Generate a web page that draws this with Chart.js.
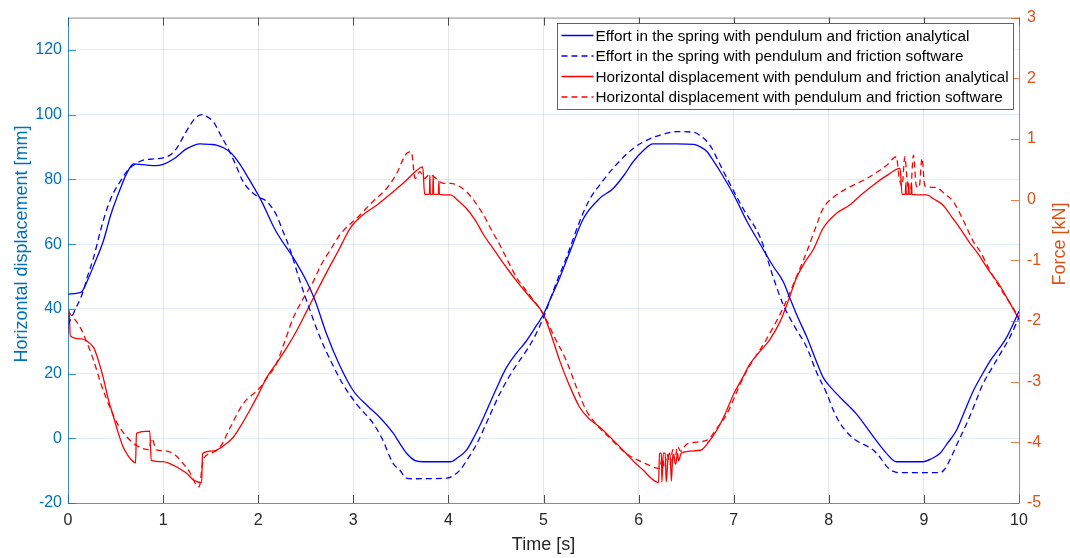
<!DOCTYPE html>
<html>
<head>
<meta charset="utf-8">
<script src="https://cdn.jsdelivr.net/npm/chart.js@4/dist/chart.umd.min.js"></script>
<style>
  html, body { margin: 0; padding: 0; background: #fff; }
</style>
</head>
<body>
<canvas id="cav" width="1070" height="558"></canvas>
<script>
// Data
var timeTicks = [0, 1, 2, 3, 4, 5, 6, 7, 8, 9, 10];
var dispTicks = [-20, 0, 20, 40, 60, 80, 100, 120];
var forceTicks = [-5, -4, -3, -2, -1, 0, 1, 2, 3];

var seriesLabels = [
    'Effort in the spring with pendulum and friction analytical',
    'Effort in the spring with pendulum and friction software',
    'Horizontal displacement with pendulum and friction analytical',
    'Horizontal displacement with pendulum and friction software'
];

// effort in the spring [kN], right axis
var tSpringAn = [0, 0.1, 0.15, 0.2, 0.28, 0.37, 0.45, 0.55, 0.62, 0.69, 0.75, 0.83, 0.92, 1.0, 1.11, 1.25, 1.39, 1.5, 1.56, 1.64,
    1.72, 1.8, 1.88, 2.02, 2.19, 2.37, 2.51, 2.6, 2.72, 2.85, 3.0, 3.15, 3.28, 3.42, 3.49, 3.56, 3.65, 3.74, 3.9, 4.02,
    4.1, 4.19, 4.28, 4.37, 4.5, 4.61, 4.72, 4.82, 4.92, 5.0, 5.08, 5.17, 5.28, 5.42, 5.59, 5.73, 5.85, 5.94, 6.05, 6.15,
    6.4, 6.58, 6.65, 6.72, 6.79, 6.86, 7.0, 7.14, 7.28, 7.42, 7.52, 7.59, 7.68, 7.77, 7.86, 7.94, 8.03, 8.12, 8.29, 8.47,
    8.6, 8.71, 8.99, 9.08, 9.17, 9.25, 9.34, 9.43, 9.52, 9.61, 9.7, 9.87, 10];
var springAn = [-1.56, -1.54, -1.51, -1.35, -1.05, -0.69, -0.25, 0.18, 0.44, 0.59, 0.58, 0.57, 0.56, 0.58, 0.67, 0.84, 0.92, 0.91, 0.90, 0.85,
    0.76, 0.60, 0.40, 0.02, -0.53, -0.96, -1.35, -1.67, -2.22, -2.71, -3.15, -3.40, -3.59, -3.85, -4.02, -4.18, -4.30, -4.32, -4.32, -4.32,
    -4.25, -4.13, -3.88, -3.59, -3.13, -2.77, -2.52, -2.33, -2.09, -1.89, -1.61, -1.29, -0.85, -0.31, 0.02, 0.18, 0.41, 0.62, 0.81, 0.92,
    0.92, 0.91, 0.87, 0.79, 0.63, 0.46, 0.08, -0.36, -0.74, -1.11, -1.35, -1.62, -1.96, -2.27, -2.63, -2.93, -3.11, -3.26, -3.53, -3.91,
    -4.17, -4.32, -4.32, -4.27, -4.18, -4.01, -3.81, -3.48, -3.15, -2.89, -2.65, -2.27, -1.84];

var tSpringSw = [0, 0.08, 0.16, 0.2, 0.27, 0.34, 0.41, 0.48, 0.55, 0.62, 0.69, 0.79, 0.9, 1.0, 1.07, 1.14, 1.21, 1.28, 1.35, 1.41,
    1.47, 1.53, 1.6, 1.7, 1.77, 1.84, 1.95, 2.02, 2.09, 2.19, 2.26, 2.33, 2.44, 2.51, 2.65, 2.77, 2.89, 3.05, 3.21, 3.3,
    3.42, 3.49, 3.56, 3.62, 3.98, 4.05, 4.12, 4.2, 4.3, 4.42, 4.54, 4.68, 4.82, 4.91, 5.0, 5.14, 5.24, 5.38, 5.48, 5.59,
    5.75, 5.94, 6.1, 6.22, 6.4, 6.58, 6.66, 6.75, 6.84, 6.93, 7.1, 7.28, 7.42, 7.52, 7.64, 7.77, 7.87, 7.98, 8.05, 8.12,
    8.2, 8.29, 8.47, 8.54, 8.61, 8.68, 8.75, 9.17, 9.22, 9.27, 9.36, 9.45, 9.54, 9.62, 9.71, 9.8, 9.9, 10];
var springSw = [-2.06, -1.80, -1.51, -1.29, -0.95, -0.52, -0.15, 0.12, 0.30, 0.47, 0.57, 0.65, 0.67, 0.69, 0.73, 0.84, 1.03, 1.22, 1.36, 1.40,
    1.36, 1.28, 1.08, 0.79, 0.55, 0.30, 0.10, 0.03, -0.03, -0.25, -0.52, -0.80, -1.35, -1.67, -2.27, -2.68, -3.04, -3.40, -3.69, -3.93,
    -4.35, -4.46, -4.59, -4.60, -4.59, -4.55, -4.46, -4.28, -4.02, -3.61, -3.20, -2.81, -2.49, -2.25, -1.94, -1.35, -0.96, -0.36, -0.01, 0.24,
    0.55, 0.84, 0.99, 1.06, 1.12, 1.11, 1.04, 0.90, 0.63, 0.35, -0.15, -0.63, -1.30, -1.73, -2.09, -2.44, -2.84, -3.20, -3.48, -3.69,
    -3.85, -3.97, -4.13, -4.25, -4.40, -4.48, -4.50, -4.50, -4.44, -4.30, -3.99, -3.69, -3.35, -3.04, -2.79, -2.55, -2.28, -1.94];

// horizontal displacement [mm], left axis
var tDispAn = [0, 0.01, 0.025, 0.14, 0.2, 0.27, 0.32, 0.37, 0.42, 0.48, 0.53, 0.58, 0.63, 0.67, 0.71, 0.72, 0.86, 0.875, 1.0, 1.07,
    1.14, 1.25, 1.32, 1.405, 1.415, 1.53, 1.65, 1.74, 1.82, 1.91, 2.0, 2.09, 2.2, 2.3, 2.4, 2.51, 2.6, 2.67, 2.76, 2.84,
    2.97, 3.1, 3.25, 3.42, 3.55, 3.63, 3.73, 3.75, 3.8, 3.805, 3.81, 3.835, 3.84, 3.845, 3.895, 3.9, 3.905, 4.02, 4.1, 4.19,
    4.28, 4.37, 4.45, 4.54, 4.63, 4.72, 4.86, 5.0, 5.08, 5.17, 5.27, 5.38, 5.48, 5.59, 5.73, 5.87, 5.96, 6.05, 6.13, 6.21,
    6.22, 6.24, 6.245, 6.26, 6.28, 6.29, 6.31, 6.33, 6.345, 6.36, 6.39, 6.41, 6.42, 6.45, 6.65, 6.74, 6.82, 6.91, 7.0, 7.09,
    7.17, 7.28, 7.38, 7.49, 7.58, 7.66, 7.75, 7.84, 7.94, 8.08, 8.22, 8.35, 8.47, 8.6, 8.75, 8.77, 8.805, 8.81, 8.815, 8.835,
    8.84, 8.845, 8.865, 8.87, 8.875, 9.03, 9.1, 9.2, 9.29, 9.38, 9.48, 9.57, 9.68, 9.78, 9.9, 10];
var dispAn = [32.2, 39.8, 31.6, 30.7, 30, 28, 24, 18.8, 12.5, 6.5, 1.5, -2.7, -5.3, -6.8, -7.6, 1.5, 2.2, -6.8, -7.2, -7.8,
    -8.8, -10.9, -12.9, -13.7, -4.7, -3.9, -2, 0.4, 4, 8.6, 13.5, 18.8, 23.5, 28, 33, 39.3, 44.5, 48.5, 53.5, 57.8,
    65, 69, 72.1, 76.2, 79.5, 81.8, 83.9, 75.4, 75.4, 81.3, 75.4, 75.4, 81.3, 75.4, 75.4, 79.5, 75.4, 75.2, 73.5, 71,
    67.5, 62.9, 59.5, 55.7, 52, 48.5, 43.5, 38.3, 32, 24, 16.5, 9.6, 6, 3.5, -0.5, -4.7, -7.5, -9.9, -12.3, -13.7,
    -4.6, -4.6, -13.5, -4.6, -4.6, -13.5, -6, -4.6, -13.2, -5, -8, -4.6, -7, -4.5, -3.7, -1, 2.4, 7.5, 13.7, 18.5,
    22.9, 27, 30.5, 36.2, 43, 49.6, 54.5, 58.5, 64.9, 69.5, 72.1, 75.5, 78.3, 81, 83.4, 75.4, 75.4, 79, 75.4, 75.4,
    79, 75.4, 75.4, 79, 75.4, 75.2, 74, 72.1, 68.5, 64.9, 60.5, 57, 52, 48, 42, 36.8];

var tDispSw = [0, 0.13, 0.2, 0.27, 0.35, 0.44, 0.53, 0.62, 0.7, 0.79, 0.85, 0.88, 0.93, 1.0, 1.07, 1.14, 1.21, 1.28, 1.35, 1.38,
    1.42, 1.49, 1.6, 1.7, 1.84, 2.02, 2.1, 2.19, 2.28, 2.37, 2.47, 2.58, 2.66, 2.75, 2.86, 3.07, 3.2, 3.35, 3.45, 3.56,
    3.61, 3.65, 3.7, 3.75, 3.8, 3.95, 4.02, 4.19, 4.28, 4.37, 4.45, 4.54, 4.63, 4.72, 4.86, 5.0, 5.12, 5.24, 5.35, 5.45,
    5.55, 5.7, 5.87, 6.05, 6.22, 6.25, 6.27, 6.3, 6.33, 6.36, 6.38, 6.41, 6.44, 6.51, 6.72, 6.82, 6.93, 7.02, 7.1, 7.19,
    7.28, 7.4, 7.52, 7.64, 7.77, 7.86, 7.94, 8.05, 8.19, 8.4, 8.61, 8.71, 8.74, 8.77, 8.8, 8.83, 8.86, 8.89, 8.92, 8.95,
    8.98, 9.01, 9.13, 9.22, 9.31, 9.42, 9.52, 9.59, 9.7, 9.8, 9.9, 10];
var dispSw = [39.3, 34.2, 29.5, 24, 16.5, 9.6, 4, 0.4, -1.8, -3.2, -3.5, 0, -3.6, -3.8, -4.2, -5.5, -7.8, -10.5, -14.5, -15,
    -6.8, -4.8, -2.7, 3, 10.6, 15.7, 19, 22.9, 30, 37.3, 43, 48.5, 53.5, 57.8, 62.9, 69, 73, 77.2, 81.5, 88,
    88.5, 80.3, 82.4, 80.3, 81.5, 78.8, 78.8, 76.2, 73, 69, 64.5, 59.8, 54.5, 49.5, 44, 38.3, 31, 24, 15.5, 8.6,
    4.5, 0, -4.7, -7.5, -9.3, -6, -9, -5, -8, -3.5, -6.5, -2.5, -4, -1.7, -0.6, 3, 7.6, 13.5, 18.8, 23.5,
    27.5, 33.5, 40.3, 48.5, 57.8, 65, 71, 74.5, 77.2, 80.3, 84.4, 87, 80.5, 78, 87, 78, 77, 87.5, 78, 77.5,
    86.5, 78, 77.5, 75.5, 73.1, 67, 60.8, 57.8, 51.5, 46.5, 42, 37.3];

var fontName = '"Liberation Sans", Arial, Helvetica, sans-serif';
var leftColour = '#0072bd';
var rightColour = '#d95319';
var axisGrey = '#262626';

function pts(ts, vs) {
    return ts.map(function (t, i) { return {x: t, y: vs[i]}; });
}

function fixedTicks(list) {
    return function (scale) {
        scale.ticks = list.map(function (v) { return {value: v}; });
    };
}

// axis lines, inner tick marks, y titles and the boxed legend
var framePlugin = {
    id: 'frame',
    afterDraw: function (chart) {
        var ctx = chart.ctx;
        var a = chart.chartArea;
        var sx = chart.scales.x, sy = chart.scales.y, sy1 = chart.scales.y1;
        var tl = 8;
        ctx.save();
        ctx.lineWidth = 1;

        // top and bottom
        ctx.strokeStyle = '#8a8a8a';
        ctx.beginPath();
        ctx.moveTo(a.left, a.top + 0.5); ctx.lineTo(a.right, a.top + 0.5);
        ctx.moveTo(a.left, a.bottom + 0.5); ctx.lineTo(a.right, a.bottom + 0.5);
        ctx.stroke();
        ctx.strokeStyle = '#4d4d4d';
        ctx.beginPath();
        timeTicks.forEach(function (v) {
            var px = Math.round(sx.getPixelForValue(v)) + 0.5;
            ctx.moveTo(px, a.top); ctx.lineTo(px, a.top + tl);
            ctx.moveTo(px, a.bottom); ctx.lineTo(px, a.bottom - tl);
        });
        ctx.stroke();

        // left axis
        ctx.strokeStyle = 'rgba(0,114,189,0.75)';
        ctx.beginPath();
        ctx.moveTo(a.left + 0.5, a.top); ctx.lineTo(a.left + 0.5, a.bottom + 1);
        dispTicks.forEach(function (v) {
            var py = Math.round(sy.getPixelForValue(v)) + 0.5;
            ctx.moveTo(a.left, py); ctx.lineTo(a.left + tl, py);
        });
        ctx.stroke();

        // right axis
        ctx.strokeStyle = 'rgba(217,83,25,0.75)';
        ctx.beginPath();
        ctx.moveTo(a.right + 0.5, a.top); ctx.lineTo(a.right + 0.5, a.bottom + 1);
        forceTicks.forEach(function (v) {
            var py = Math.round(sy1.getPixelForValue(v)) + 0.5;
            ctx.moveTo(a.right, py); ctx.lineTo(a.right - tl, py);
        });
        ctx.stroke();

        // y titles, both read bottom to top
        ctx.font = '18px ' + fontName;
        ctx.textAlign = 'center';
        ctx.textBaseline = 'middle';
        ctx.fillStyle = leftColour;
        ctx.save();
        ctx.translate(22, 244);
        ctx.rotate(-Math.PI / 2);
        ctx.fillText('Horizontal displacement [mm]', 0, 0);
        ctx.restore();
        ctx.fillStyle = rightColour;
        ctx.save();
        ctx.translate(1060, 244);
        ctx.rotate(-Math.PI / 2);
        ctx.fillText('Force [kN]', 0, 0);
        ctx.restore();

        // legend
        var ds = chart.data.datasets;
        ctx.font = '15.3px ' + fontName;
        var w = 0;
        ds.forEach(function (d) { w = Math.max(w, ctx.measureText(d.label).width); });
        var boxR = 1013, boxT = 23.5, rowH = 20.5;
        var boxW = Math.round(38 + w + 5);
        var boxL = boxR - boxW + 0.5;
        var boxH = 4 + rowH * ds.length;
        ctx.fillStyle = '#ffffff';
        ctx.fillRect(boxL, boxT, boxW, boxH);
        ctx.strokeStyle = '#3c3c3c';
        ctx.lineWidth = 0.8;
        ctx.strokeRect(boxL, boxT, boxW, boxH);
        ctx.textAlign = 'left';
        ds.forEach(function (d, i) {
            var yy = boxT + 12 + i * rowH;
            ctx.strokeStyle = d.borderColor;
            ctx.lineWidth = 1.3;
            ctx.setLineDash(d.borderDash || []);
            ctx.beginPath();
            ctx.moveTo(boxL + 4, yy); ctx.lineTo(boxL + 36, yy);
            ctx.stroke();
            ctx.setLineDash([]);
            ctx.fillStyle = '#000000';
            ctx.fillText(d.label, boxL + 38, yy + 1);
        });
        ctx.restore();
    }
};

var cav = document.getElementById('cav');
var chart = new Chart(cav, {
    type: 'line',
    data: {
        datasets: [
            {label: seriesLabels[0], data: pts(tSpringAn, springAn), yAxisID: 'y1',
                borderColor: '#0000ff', borderWidth: 1.3},
            {label: seriesLabels[1], data: pts(tSpringSw, springSw), yAxisID: 'y1',
                borderColor: '#0000ff', borderWidth: 1.3, borderDash: [6, 4]},
            {label: seriesLabels[2], data: pts(tDispAn, dispAn), yAxisID: 'y',
                borderColor: '#ff0000', borderWidth: 1.3},
            {label: seriesLabels[3], data: pts(tDispSw, dispSw), yAxisID: 'y',
                borderColor: '#ff0000', borderWidth: 1.3, borderDash: [6, 4]}
        ]
    },
    options: {
        responsive: false,
        animation: false,
        devicePixelRatio: 1,
        layout: {padding: {top: 15, left: 0, right: 0, bottom: 0}},
        elements: {
            point: {radius: 0},
            line: {cubicInterpolationMode: 'monotone', fill: false}
        },
        plugins: {
            legend: {display: false},
            tooltip: {enabled: false}
        },
        scales: {
            x: {
                type: 'linear', min: 0, max: 10,
                afterBuildTicks: fixedTicks(timeTicks),
                afterFit: function (s) { s.height = 55; },
                grid: {color: 'rgba(38,38,38,0.12)', drawTicks: false},
                border: {display: false},
                ticks: {color: axisGrey, font: {family: fontName, size: 16}, padding: 8, maxRotation: 0, autoSkip: false},
                title: {display: true, text: 'Time [s]', color: axisGrey,
                    font: {family: fontName, size: 18}, padding: {top: 0, bottom: 2}}
            },
            y: {
                type: 'linear', position: 'left', min: -20, max: 130,
                afterBuildTicks: fixedTicks(dispTicks),
                afterFit: function (s) { s.width = 68; },
                grid: {color: 'rgba(0,114,189,0.12)', drawTicks: false},
                border: {display: false},
                ticks: {color: leftColour, font: {family: fontName, size: 16}, padding: 6}
            },
            y1: {
                type: 'linear', position: 'right', min: -5, max: 3,
                afterBuildTicks: fixedTicks(forceTicks),
                afterFit: function (s) { s.width = 51; },
                grid: {display: false, drawTicks: false},
                border: {display: false},
                ticks: {color: rightColour, font: {family: fontName, size: 16}, padding: 8}
            }
        }
    },
    plugins: [framePlugin]
});
</script>
</body>
</html>
